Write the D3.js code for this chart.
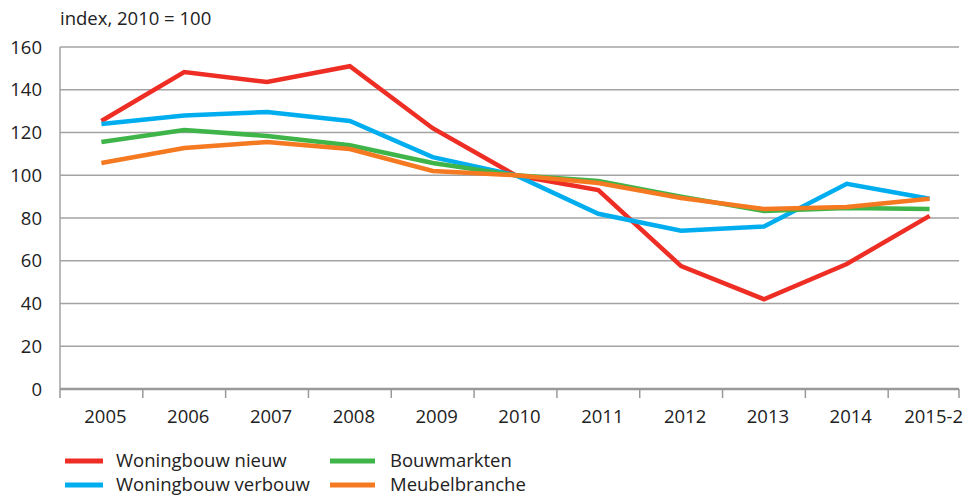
<!DOCTYPE html>
<html>
<head>
<meta charset="utf-8">
<script src="https://cdn.jsdelivr.net/npm/d3@7"></script>
<style>
  body { margin: 0; background: #fff; }
  svg text { font-family: "Open Sans", "Noto Sans", sans-serif; fill: #222; }
</style>
</head>
<body>
<svg id="main-svg" width="973" height="497"></svg>
<script>
// categories on the x axis
var years = ["2005", "2006", "2007", "2008", "2009", "2010", "2011", "2012", "2013", "2014", "2015-2"];
var yTicks = [0, 20, 40, 60, 80, 100, 120, 140, 160];

// series values, index 2010 = 100
var woningbouwNieuw   = [125.4, 148.3, 143.6, 151, 122, 100, 93.1, 57.5, 42, 58.5, 81];
var woningbouwVerbouw = [124, 128, 129.6, 125.4, 108.5, 100, 82, 74, 76, 96, 89];
var bouwmarkten       = [115.6, 121.2, 118.4, 114, 105.7, 100, 97.3, 90, 83.3, 84.7, 84.2];
var meubelbranche     = [105.7, 112.7, 115.6, 112.3, 102, 100, 96.4, 89.4, 84.2, 85.1, 89];

var series = [
  {name: "Woningbouw nieuw", values: woningbouwNieuw, color: "#ee2d24"},
  {name: "Woningbouw verbouw", values: woningbouwVerbouw, color: "#00aeef"},
  {name: "Bouwmarkten", values: bouwmarkten, color: "#3fb549"},
  {name: "Meubelbranche", values: meubelbranche, color: "#f47920"}
];

var canvas = d3.select('#main-svg');
// plot edges (note: "top" is taken by window.top)
var plotLeft = 60, plotRight = 971, gridEnd = 959, plotTop = 47, plotBottom = 389;

var x = d3.scaleBand().domain(years).range([plotLeft, plotRight]);
var y = d3.scaleLinear().domain([0, 160]).range([plotBottom, plotTop]);

// y label
canvas.append('text')
  .attr('x', 60).attr('y', 25)
  .style('font-size', '18.5px')
  .text('index, 2010 = 100');

// gridlines
canvas.append('g').selectAll('line').data(yTicks.filter((d) => d > 0)).enter()
  .append('line')
  .attr('x1', plotLeft).attr('x2', gridEnd)
  .attr('y1', (d) => y(d)).attr('y2', (d) => y(d))
  .style('stroke', '#a3a3a3').style('stroke-width', 1.5);

// left axis line
canvas.append('line')
  .attr('x1', plotLeft).attr('x2', plotLeft).attr('y1', plotTop).attr('y2', plotBottom)
  .style('stroke', '#a3a3a3').style('stroke-width', 1.5);

// y tick labels
canvas.append('g').selectAll('text').data(yTicks).enter()
  .append('text')
  .attr('x', 42).attr('y', (d) => y(d) + 6.5)
  .attr('text-anchor', 'end')
  .style('font-size', '18.5px')
  .text((d) => d);

// bottom axis
canvas.append('line')
  .attr('x1', plotLeft).attr('x2', gridEnd).attr('y1', plotBottom).attr('y2', plotBottom)
  .style('stroke', '#999').style('stroke-width', 2.5);

var tickXs = years.map((d) => x(d)).concat([gridEnd]);
canvas.append('g').selectAll('line').data(tickXs).enter()
  .append('line')
  .attr('x1', (d) => d).attr('x2', (d) => d)
  .attr('y1', plotBottom).attr('y2', plotBottom + 9)
  .style('stroke', '#999').style('stroke-width', 1.5);

canvas.append('g').selectAll('text').data(years).enter()
  .append('text')
  .attr('x', (d) => x(d) + x.bandwidth() / 2 + 4)
  .attr('y', 423)
  .attr('text-anchor', 'middle')
  .style('font-size', '18.5px')
  .text((d) => d);

// lines
var line = d3.line()
  .x((d, i) => x(years[i]) + x.bandwidth() / 2)
  .y((d) => y(d));

canvas.append('g').selectAll('path').data(series).enter()
  .append('path')
  .attr('d', (d) => line(d.values))
  .style('fill', 'none')
  .style('stroke', (d) => d.color)
  .style('stroke-width', 4.5)
  .style('stroke-linejoin', 'miter');

// legend
var legendPos = [[65, 461], [65, 485], [330, 461], [330, 485]];
var legend = canvas.append('g').selectAll('g').data(series).enter()
  .append('g')
  .attr('transform', (d, i) => `translate(${legendPos[i][0]},${legendPos[i][1]})`);

legend.append('line')
  .attr('x1', 0).attr('x2', (d, i) => i < 2 ? 38 : 45)
  .attr('y1', 0).attr('y2', 0)
  .style('stroke', (d) => d.color)
  .style('stroke-width', 5);

legend.append('text')
  .attr('x', (d, i) => i < 2 ? 51 : 60)
  .attr('y', 6)
  .style('font-size', '18.5px')
  .text((d) => d.name);
</script>
</body>
</html>
